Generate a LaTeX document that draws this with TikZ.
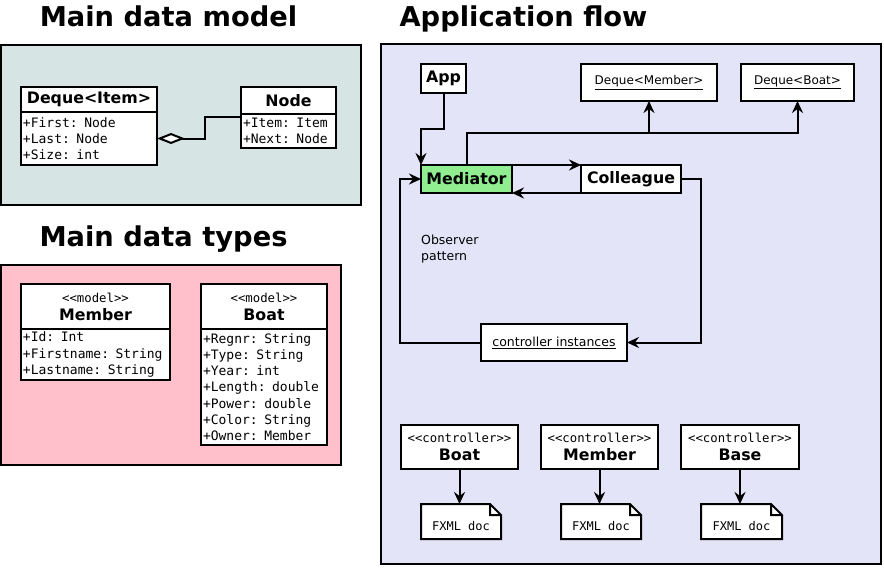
\documentclass[tikz,border=0pt]{standalone}
\usepackage{fontspec}
\setmainfont{DejaVu Sans}
\setmonofont{DejaVu Sans Mono}
\usetikzlibrary{arrows.meta,positioning}

\definecolor{modelbg}{RGB}{214,228,228}
\definecolor{typesbg}{RGB}{255,192,203}
\definecolor{flowbg}{RGB}{228,228,248}
\definecolor{medgreen}{RGB}{144,238,144}

\newcommand\stereotype[1]{{\mdseries\ttfamily\fontsize{12.3}{14}\selectfont #1}}

\tikzset{
  panel/.style={draw, line width=2pt},
  paneltitle/.style={anchor=base, font=\bfseries\fontsize{27.3}{32}\selectfont},
  box/.style={draw, fill=white, line width=2pt, inner sep=0pt, outer sep=0pt, anchor=north west},
  head/.style={box, align=center, font=\bfseries\fontsize{15.8}{18}\selectfont},
  attrs/.style={box, align=left, inner xsep=2pt, font=\ttfamily\fontsize{13}{16.2}\selectfont},
  inst/.style={box, font=\fontsize{12}{14}\selectfont},
  remark/.style={anchor=west, align=left, inner sep=0pt, font=\fontsize{12.5}{16}\selectfont},
  doc/.style={anchor=north west, inner sep=0pt, outer sep=0pt, minimum width=80, minimum height=35,
    fill=white, text height=17pt, text depth=0pt, font=\ttfamily\fontsize{12}{14}\selectfont,
    path picture={\fill[flowbg] (path picture bounding box.north east) -- ++(-11pt,0) -- ++(11pt,-11pt) -- cycle;}},
  flow/.style={line width=2pt, -{Stealth[length=12pt, width=11pt, inset=4pt]}},
  aggregate/.style={line width=2pt, {Diamond[length=28pt, width=11pt, fill=white]}-},
}

\begin{document}
\begin{tikzpicture}[x=1pt, y=-1pt]
  \useasboundingbox (0,0) rectangle (884,568);

  % panels
  \draw[panel, fill=modelbg] (1,45) rectangle (361,205);
  \draw[panel, fill=typesbg] (1,265) rectangle (341,465);
  \draw[panel, fill=flowbg] (381,44) rectangle (881,564);
  \node[paneltitle] (modelTitle) at (168.5,26) {Main data model};
  \node[paneltitle] (typesTitle) at (163.5,246) {Main data types};
  \node[paneltitle] (flowTitle) at (523.5,26) {Application flow};

  % main data model
  \node[head, minimum width=136, minimum height=25] (dequeHead) at (21,87) {Deque<Item>};
  \node[attrs, below=0pt of dequeHead, text width=132, minimum height=53] (dequeAttrs)
    {+First: Node\\+Last: Node\\+Size: int};
  \node[head, minimum width=95, minimum height=27] (nodeHead) at (241,87) {Node};
  \node[attrs, below=0pt of nodeHead, text width=91, minimum height=34] (nodeAttrs)
    {+Item: Item\\+Next: Node};
  \draw[aggregate] (dequeAttrs.east) -- ++(48,0) |- ([yshift=-3pt]nodeAttrs.north west);

  % main data types
  \node[head, minimum width=149, minimum height=45] (memberHead) at (21,284)
    {\stereotype{<<model>>}\\Member};
  \node[attrs, below=0pt of memberHead, text width=145, minimum height=51] (memberAttrs)
    {+Id: Int\\+Firstname: String\\+Lastname: String};
  \node[head, minimum width=126, minimum height=45] (boatHead) at (201,284)
    {\stereotype{<<model>>}\\Boat};
  \node[attrs, below=0pt of boatHead, text width=122, minimum height=116] (boatAttrs)
    {+Regnr: String\\+Type: String\\+Year: int\\+Length: double\\+Power: double\\+Color: String\\+Owner: Member};

  % application flow
  \node[head, minimum width=45, minimum height=29] (app) at (421,64) {App};
  \node[inst, minimum width=136, minimum height=37] (dqMember) at (581,64) {\underline{Deque<Member>}};
  \node[inst, minimum width=113, minimum height=37] (dqBoat) at (741,64) {\underline{Deque<Boat>}};
  \node[head, fill=medgreen, minimum width=91, minimum height=28] (mediator) at (421,165) {Mediator};
  \node[head, minimum width=100, minimum height=28] (colleague) at (581,165) {Colleague};
  \node[inst, minimum width=146, minimum height=37, font=\fontsize{12.5}{15}\selectfont] (instances) at (481,324)
    {\underline{controller instances}};
  \node[remark] (observer) at (421,249) {Observer\\pattern};
  \coordinate (bus) at (0,133);

  \draw[flow] (app.south) -- ++(0,36) -| (mediator.north west);
  \draw[flow] (mediator.north) |- (bus -| dqBoat.south) -- (dqBoat.south);
  \draw[flow] (bus -| dqMember.south) -- (dqMember.south);
  \draw[flow] (mediator.north east) -- (colleague.north west);
  \draw[flow] (colleague.south west) -- (mediator.south east);
  \draw[flow] (colleague.east) -- ++(20,0) |- (instances.east);
  \draw[flow] (instances.west) -- ++(-81,0) |- (mediator.west);

  % controllers and their documents
  \node[head, minimum width=117, minimum height=44] (ctlBoat) at (401,425) {\stereotype{<<controller>>}\\Boat};
  \node[head, minimum width=117, minimum height=44] (ctlMember) at (541,425) {\stereotype{<<controller>>}\\Member};
  \node[head, minimum width=118, minimum height=44] (ctlBase) at (681,425) {\stereotype{<<controller>>}\\Base};
  \node[doc] (docBoat) at (421,504) {FXML doc};
  \node[doc] (docMember) at (561,504) {FXML doc};
  \node[doc, minimum width=81] (docBase) at (701,504) {FXML doc};
  \foreach \d in {docBoat,docMember,docBase}
    \draw[line width=2pt] (\d.north west) -- ([xshift=-11pt]\d.north east) -- ([yshift=-11pt]\d.north east)
      -- (\d.south east) -- (\d.south west) -- cycle
      ([xshift=-11pt]\d.north east) |- ([yshift=-11pt]\d.north east);
  \draw[flow] (ctlBoat.south) -- (ctlBoat.south |- docBoat.north);
  \draw[flow] (ctlMember.south) -- (ctlMember.south |- docMember.north);
  \draw[flow] (ctlBase.south) -- (ctlBase.south |- docBase.north);
\end{tikzpicture}
\end{document}
